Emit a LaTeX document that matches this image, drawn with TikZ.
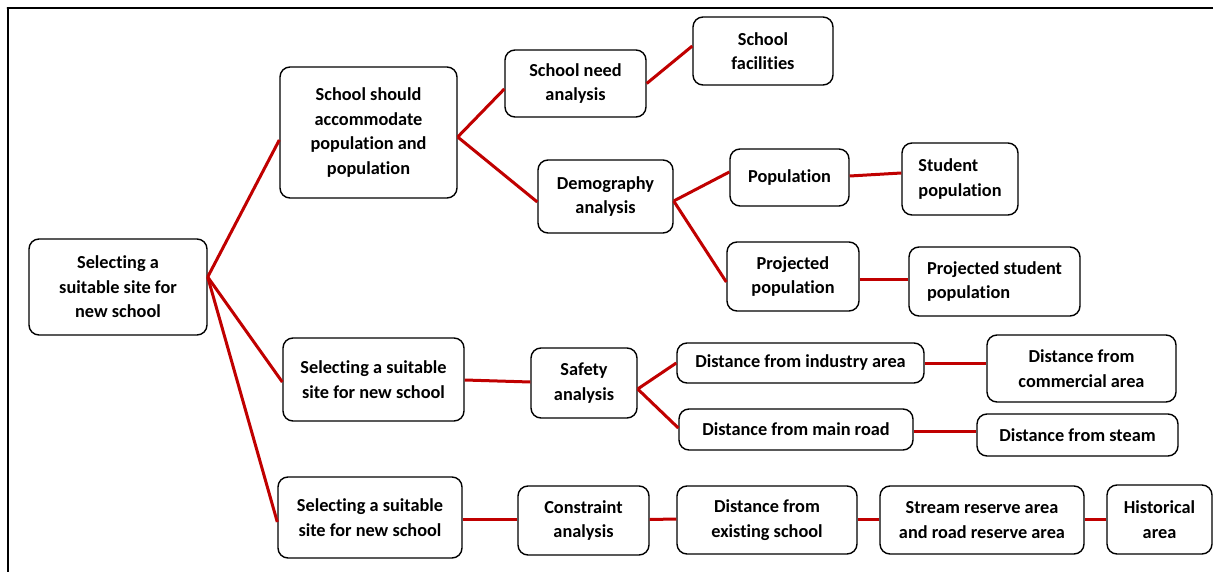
\documentclass[tikz,border=0pt]{standalone}
\usepackage{fontspec}
\setmainfont{Carlito}[Ligatures=NoCommon]
\definecolor{linkred}{RGB}{192,0,0}
\begin{document}
\begin{tikzpicture}[x=1pt,y=-1pt,
  box/.style={draw=black,line width=1.4pt,rounded corners=10pt,align=center,inner sep=0pt,
    font=\fontsize{18.3}{24.5}\selectfont\bfseries},
  link/.style={draw=linkred,line width=3pt},
  frame/.style={draw=black,line width=2.5pt}]
\useasboundingbox (0,0) rectangle (1218,572);
\coordinate (fa) at (6.8,8);
\coordinate (fb) at (1213,8);
\coordinate (fc) at (8,572);
\draw[frame] (fb) -- (fa) -- ([xshift=1.2pt]fa) |- (fc);
% nodes
\node[box,minimum width=178,minimum height=96] (n1) at (118,287) {Selecting a\\suitable site for\\new school};
\node[box,minimum width=177,minimum height=131] (n2) at (368.5,132.5) {School should\\accommodate\\population and\\population};
\node[box,minimum width=141,minimum height=67] (n3) at (575.5,83.5) {School need\\analysis};
\node[box,minimum width=140,minimum height=68] (n4) at (763,51) {School\\facilities};
\node[box,minimum width=135,minimum height=73] (n5) at (605.5,196.5) {Demography\\analysis};
\node[box,minimum width=119,minimum height=57] (n6) at (789.5,177.5) {Population};
\node[box,align=left,minimum width=116,minimum height=72] (n7) at (960,179) {Student\\population};
\node[box,minimum width=132,minimum height=69] (n8) at (793,276.5) {Projected\\population};
\node[box,align=left,minimum width=171,minimum height=69] (n9) at (994.5,281.5) {Projected student\\population};
\node[box,minimum width=181,minimum height=83] (n10) at (373.5,379.5) {Selecting a suitable\\site for new school};
\node[box,minimum width=106,minimum height=70] (n11) at (584,383) {Safety\\analysis};
\node[box,minimum width=247,minimum height=40] (n12) at (800.5,363) {Distance from industry area};
\node[box,minimum width=189,minimum height=67] (n13) at (1081.5,368.5) {Distance from\\commercial area};
\node[box,minimum width=234,minimum height=41] (n14) at (796,429.5) {Distance from main road};
\node[box,minimum width=201,minimum height=42] (n15) at (1077.5,435) {Distance from steam};
\node[box,minimum width=184,minimum height=81] (n16) at (370,517.5) {Selecting a suitable\\site for new school};
\node[box,minimum width=131,minimum height=69] (n17) at (583.5,520.5) {Constraint\\analysis};
\node[box,minimum width=180,minimum height=68] (n18) at (767,520) {Distance from\\existing school};
\node[box,minimum width=204,minimum height=68] (n19) at (982,520) {Stream reserve area\\and road reserve area};
\node[box,minimum width=105,minimum height=69] (n20) at (1159.5,519.5) {Historical\\area};
% connectors
\draw[link] ([yshift=10pt]n1.east) -- ([yshift=-7.5pt]n2.west);
\draw[link] ([yshift=10pt]n1.east) -- ([yshift=-2.5pt]n10.west);
\draw[link] ([yshift=10pt]n1.east) -- ([yshift=-4.5pt]n16.west);
\draw[link] ([yshift=-4.5pt]n2.east) -- ([yshift=-5.5pt]n3.west);
\draw[link] ([yshift=-4.5pt]n2.east) -- ([yshift=-5.5pt]n5.west);
\draw[link] (n3.east) -- ([yshift=5pt]n4.west);
\draw[link] ([yshift=-4.5pt]n5.east) -- ([yshift=5.5pt]n6.west);
\draw[link] ([yshift=-4.5pt]n5.east) -- ([yshift=-5.5pt]n8.west);
\draw[link] ([yshift=1.5pt]n6.east) -- ([yshift=6pt]n7.west);
\draw[link] ([yshift=-2.5pt]n8.east) -- ([yshift=2.5pt]n9.west);
\draw[link] ([yshift=-0.5pt]n10.east) -- ([yshift=1pt]n11.west);
\draw[link] ([yshift=-6pt]n11.east) -- (n12.west);
\draw[link] ([yshift=-6pt]n11.east) -- ([yshift=1.5pt]n14.west);
\draw[link] (n12.east) -- ([yshift=5.5pt]n13.west);
\draw[link] ([yshift=-1.5pt]n14.east) -- ([yshift=4pt]n15.west);
\draw[link] ([yshift=-1.5pt]n16.east) -- ([yshift=1.5pt]n17.west);
\draw[link] ([yshift=1pt]n17.east) -- ([yshift=1pt]n18.west);
\draw[link] ([yshift=1pt]n18.east) -- ([yshift=1pt]n19.west);
\draw[link] ([yshift=1pt]n19.east) -- ([yshift=0.5pt]n20.west);
\end{tikzpicture}
\end{document}
